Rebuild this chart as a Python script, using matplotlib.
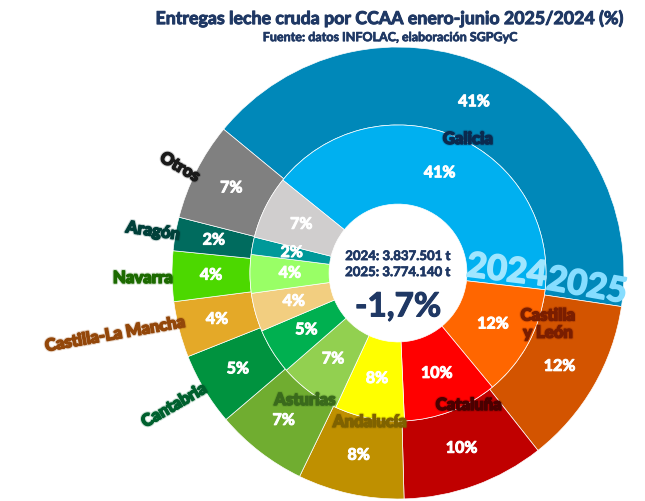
import matplotlib.pyplot as plt
import matplotlib.patheffects as pe

regiones = ['Galicia', 'Castilla\ny León', 'Cataluña', 'Andalucía', 'Asturias',
            'Cantabria', 'Castilla-La Mancha', 'Navarra', 'Aragón', 'Otros']
pct_2025 = [41.4, 12.0, 10.2, 7.6, 6.6, 5.2, 4.0, 3.6, 2.4, 7.0]
pct_2024 = [41.0, 12.2, 10.3, 7.6, 6.7, 5.0, 4.2, 4.2, 1.9, 6.9]
total_2024 = '3.837.501'
total_2025 = '3.774.140'
variacion = '-1,7%'

col_2025 = ['#0088B9', '#D35400', '#C00000', '#BF9000', '#70AD30',
            '#00933F', '#E4A928', '#4CD800', '#006B5E', '#808080']
col_2024 = ['#00B0F0', '#FF6600', '#FF0000', '#FFFF00', '#92D050',
            '#00B050', '#F2CE80', '#99FF66', '#009999', '#D0CECE']
col_nombres = ['#0B2A4F', '#7A1E00', '#4A0000', '#7F6200', '#3A6A1C',
               '#00602E', '#93470A', '#1C6A00', '#00403A', '#1A1A1A']

# posicion (x, y) y giro de cada nombre, en unidades del radio exterior
pos_nombres = [(0.31, 0.593), (0.664, -0.226), (0.314, -0.584), (-0.124, -0.659),
               (-0.412, -0.562), (-0.99, -0.585), (-1.25, -0.27), (-1.128, -0.022),
               (-1.084, 0.186), (-0.965, 0.469)]
giro_nombres = [0, 0, 0, 0, 0, 30, 10, 0, -8, -30]

plt.rcParams['font.family'] = ['Lato', 'DejaVu Sans']


def grueso(c, w=0.8):
    return [pe.withStroke(linewidth=w, foreground=c)]


fig = plt.figure(figsize=(6.45, 5.02), dpi=100)
ax = fig.add_axes([0, 0, 1, 1])

txt = dict(color='white', fontsize=11.5, fontweight='bold',
           path_effects=grueso('white', 0.7))
ax.pie(pct_2025, radius=1.0, startangle=140.5, counterclock=False, colors=col_2025,
       wedgeprops=dict(width=0.345, edgecolor='white', linewidth=0.5),
       autopct='%.0f%%', pctdistance=0.827, textprops=txt)
ax.pie(pct_2024, radius=0.655, startangle=141.1, counterclock=False, colors=col_2024,
       wedgeprops=dict(width=0.35, edgecolor='white', linewidth=0.5),
       autopct='%.0f%%', pctdistance=0.73, textprops=txt)

for nombre, (x, y), rot, c in zip(regiones, pos_nombres, giro_nombres, col_nombres):
    ax.text(x, y, nombre, ha='center', va='center', rotation=rot, color=c,
            fontsize=12, fontweight='black', linespacing=1.1,
            path_effects=[pe.withStroke(linewidth=2.5, foreground=c, alpha=0.2),
                          pe.withStroke(linewidth=1.1, foreground=c)])

ax.text(0.482, 0.009, '2024', ha='center', va='center', rotation=-7,
        color='#A0E6FF', fontsize=25, fontweight='bold',
        path_effects=grueso('#A0E6FF', 1.2))
ax.text(0.836, -0.058, '2025', ha='center', va='center', rotation=-10,
        color='#86DDFF', fontsize=25, fontweight='bold',
        path_effects=grueso('#86DDFF', 1.2))

navy = '#1F3864'
ax.text(0, 0.075, '2024: %s t' % total_2024, ha='center', va='center',
        color=navy, fontsize=9.5, fontweight='bold', path_effects=grueso(navy, 0.5))
ax.text(0, 0.004, '2025: %s t' % total_2025, ha='center', va='center',
        color=navy, fontsize=9.5, fontweight='bold', path_effects=grueso(navy, 0.5))
ax.text(0, -0.15, variacion, ha='center', va='center',
        color=navy, fontsize=24, fontweight='bold', path_effects=grueso(navy, 0.8))

ax.set_xlim(-398 / 226, 247 / 226)
ax.set_ylim(-228 / 226, 274 / 226)
ax.set_aspect('equal')
ax.axis('off')

fig.text(0.605, 0.962, 'Entregas leche cruda por CCAA enero-junio 2025/2024 (%)',
         ha='center', va='center', color=navy, fontsize=12.8, fontweight='bold',
         path_effects=grueso(navy, 0.7))
fig.text(0.605, 0.924, 'Fuente: datos INFOLAC, elaboración SGPGyC',
         ha='center', va='center', color=navy, fontsize=9, fontweight='bold',
         path_effects=grueso(navy, 0.5))

fig.savefig('out.png', dpi=100)
